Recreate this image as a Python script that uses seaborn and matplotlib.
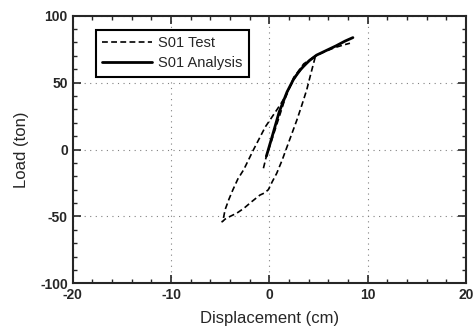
import matplotlib
matplotlib.use("Agg")
import pandas as pd
import matplotlib.pyplot as plt
from matplotlib.ticker import MultipleLocator
import seaborn as sns

# S01 test curve (one continuous path: loading, unloading, reloading)
test_x = [-0.6, -0.3, 0.2, 0.9, 1.6, 2.5, 3.5, 4.7,
          4.2, 3.8, 3.3, 2.8, 2.3, 1.8, 1.3, 0.75, 0.3, -0.1, -0.5, -0.95, -1.8, -2.6, -3.3, -4.0, -4.5, -4.8,
          -4.7, -4.5, -4.1, -3.7, -3.2, -2.6, -2.1, -1.6, -1.0, -0.4, 0.2, 0.75, 1.2, 1.6, 2.1, 2.8, 3.6, 4.6, 5.6, 6.6, 7.5, 8.2]
test_y = [-14, -5, 6, 22, 38, 54, 64, 70,
          56, 44.5, 33, 22, 12, 2, -8, -17.8, -24, -30, -32.5, -34, -39, -44, -47.5, -50, -52, -54,
          -52.5, -45, -37, -30, -22, -15, -7.5, 0, 8.5, 17, 23.5, 29.5, 34.5, 39.5, 47, 56, 63, 69.5, 73, 76, 78, 79.4]

# S01 analysis curve
ana_x = [-0.3, 0.3, 1.0, 1.8, 2.5, 3.2, 4.0, 4.8, 5.8, 6.8, 7.7, 8.5]
ana_y = [-5, 10, 28, 43, 53, 60, 66, 70.5, 74, 77.5, 81, 83.6]

df_test = pd.DataFrame({"x": test_x, "y": test_y, "step": range(len(test_x))})
df_ana = pd.DataFrame({"x": ana_x, "y": ana_y, "step": range(len(ana_x))})

sns.set_style("ticks")
plt.rcParams['font.family'] = ['Liberation Sans', 'DejaVu Sans']
plt.rcParams['axes.unicode_minus'] = False

fig = plt.figure(figsize=(4.75, 3.33), dpi=100)
ax = fig.add_axes([0.153, 0.149, 0.828, 0.804])

sns.lineplot(data=df_test, x="x", y="y", sort=False, estimator=None, ax=ax,
             color="black", linewidth=1.2, linestyle=(0, (3.5, 2)), label="S01 Test")
sns.lineplot(data=df_ana, x="x", y="y", sort=False, estimator=None, ax=ax,
             color="black", linewidth=2.0, label="S01 Analysis")

ax.set_xlim(-20, 20)
ax.set_ylim(-100, 100)
ax.xaxis.set_major_locator(MultipleLocator(10))
ax.xaxis.set_minor_locator(MultipleLocator(2))
ax.yaxis.set_major_locator(MultipleLocator(50))
ax.yaxis.set_minor_locator(MultipleLocator(10))
ax.tick_params(which="both", direction="in", top=True, right=True, labelsize=10)
ax.tick_params(which="major", length=6, width=1.2)
ax.tick_params(which="minor", length=3, width=1.0)
for lab in ax.get_xticklabels() + ax.get_yticklabels():
    lab.set_fontweight("bold")
ax.grid(True, which="major", linestyle=(0, (1, 4)), color="gray", linewidth=0.8)
for s in ax.spines.values():
    s.set_linewidth(1.5)

ax.set_xlabel("Displacement (cm)", fontsize=12, labelpad=6)
ax.set_ylabel("Load (ton)", fontsize=12, labelpad=8)

leg = ax.legend(loc="upper left", bbox_to_anchor=(0.04, 0.975), fancybox=False,
                framealpha=1, edgecolor="black", handlelength=3.4, fontsize=10.5,
                borderpad=0.45, labelspacing=0.4, handletextpad=0.4)
leg.get_frame().set_linewidth(1.5)

fig.savefig("out.png", dpi=100)
